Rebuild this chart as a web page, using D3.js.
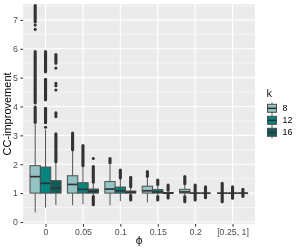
<!DOCTYPE html>
<html>
<head>
<meta charset="utf-8">
<script src="https://cdn.jsdelivr.net/npm/d3@7"></script>
<style>
  body { margin: 0; background: #fff; }
  svg { display: block; font-family: "Liberation Sans", Arial, sans-serif; will-change: transform; }
  text { fill: #000; }
</style>
</head>
<body>
<script>
// chart data
var phiLabels = ["0", "0.05", "0.1", "0.15", "0.2", "[0.25, 1]"];
var kLevels = ["8", "12", "16"];
var kColors = ["#93c4c3", "#00847f", "#0c5e5b"];
var yTicks = [0, 1, 2, 3, 4, 5, 6, 7];

// box stats, one row per k, one column per phi
var whiskerLow = [
    [0.33, 0.58, 0.58, 0.68, 0.92, 1],
    [0.50, 0.61, 0.72, 0.92, 1, 1],
    [0.59, 0.90, 0.95, 1, 1, 1]
];
var q1 = [
    [1, 1, 1, 1, 1, 1],
    [1, 1, 1, 1, 1, 1],
    [1, 1, 1, 1, 1, 1]
];
var median = [
    [1.57, 1.30, 1.14, 1.08, 1.04, 1],
    [1.34, 1.13, 1.08, 1.04, 1, 1],
    [1.17, 1.06, 1.03, 1, 1, 1]
];
var q3 = [
    [1.95, 1.60, 1.40, 1.24, 1.13, 1],
    [1.90, 1.36, 1.21, 1.12, 1, 1],
    [1.43, 1.14, 1.07, 1.02, 1, 1]
];
var whiskerHigh = [
    [3.40, 2.48, 2.00, 1.55, 1.27, 1],
    [3.20, 1.90, 1.50, 1.25, 1, 1],
    [2.08, 1.33, 1.17, 1.05, 1, 1]
];

// outliers: dense runs of points [from, to] and single points
var outlierRuns = [
    [
        [[3.45, 3.98], [4.12, 5.9], [6.93, 7.5]],
        [[2.5, 3.08]],
        [[2.05, 2.2]],
        [[1.58, 1.75]],
        [[1.32, 1.57], [0.7, 0.88]],
        [[1.03, 1.34], [0.7, 0.97]]
    ],
    [
        [[3.44, 3.94], [4.23, 4.94], [5.2, 5.9]],
        [[1.95, 2.65]],
        [[1.52, 1.8]],
        [[1.3, 1.45], [0.76, 0.88]],
        [[1.03, 1.28], [0.76, 0.97]],
        [[1.03, 1.22], [0.82, 0.97]]
    ],
    [
        [[2.09, 3.05], [5.5, 5.8]],
        [[1.38, 1.92], [0.6, 0.88]],
        [[1.22, 1.55], [0.76, 0.92]],
        [[1.1, 1.28], [0.83, 0.95]],
        [[1.03, 1.22], [0.84, 0.97]],
        [[1.03, 1.13], [0.88, 0.97]]
    ]
];
var outlierDots = [
    [[6.67, 6.82], [], [], [], [], []],
    [[3.28], [], [], [], [], []],
    [[3.65, 3.72, 3.78, 4.57, 4.72, 4.8, 5.33], [2.2], [], [], [], []]
];

var width = 300,
    height = 250,
    panel = {left: 23.1, right: 255, top: 4, bottom: 224};

var svg = d3.select("body")
    .append("svg")
    .attr("width", width)
    .attr("height", height);

var x = d3.scalePoint()
    .domain(phiLabels)
    .range([panel.left, panel.right])
    .padding(0.6);

var dodgeWidth = x.step() * 0.83;
var xk = d3.scaleBand()
    .domain(kLevels)
    .range([-dodgeWidth / 2, dodgeWidth / 2])
    .padding(0);

var y = d3.scaleLinear()
    .domain([-0.07, 7.55])
    .range([panel.bottom, panel.top]);

//panel background and grid
svg.append("rect")
    .attr("x", panel.left)
    .attr("y", panel.top)
    .attr("width", panel.right - panel.left)
    .attr("height", panel.bottom - panel.top)
    .attr("fill", "#ebebeb");

var minorTicks = yTicks.map(function(d){ return d + 0.5; });
svg.selectAll(".minor")
    .data(minorTicks)
    .enter()
    .append("line")
    .attr("x1", panel.left)
    .attr("x2", panel.right)
    .attr("y1", function(d){ return y(d); })
    .attr("y2", function(d){ return y(d); })
    .attr("stroke", "#fff")
    .attr("stroke-width", 0.5);

svg.selectAll(".major")
    .data(yTicks)
    .enter()
    .append("line")
    .attr("x1", panel.left)
    .attr("x2", panel.right)
    .attr("y1", function(d){ return y(d); })
    .attr("y2", function(d){ return y(d); })
    .attr("stroke", "#fff")
    .attr("stroke-width", 1.1);

svg.selectAll(".vgrid")
    .data(phiLabels)
    .enter()
    .append("line")
    .attr("x1", function(d){ return x(d); })
    .attr("x2", function(d){ return x(d); })
    .attr("y1", panel.top)
    .attr("y2", panel.bottom)
    .attr("stroke", "#fff")
    .attr("stroke-width", 1.1);

//boxplots
var groups = [];
kLevels.forEach(function(k, ki){
    phiLabels.forEach(function(p, pi){
        groups.push({k: k, ki: ki, phi: p, pi: pi});
    });
});

var boxW = xk.bandwidth();
var g = svg.selectAll(".box")
    .data(groups)
    .enter()
    .append("g")
    .attr("transform", function(d){
        return "translate(" + (x(d.phi) + xk(d.k) + boxW / 2) + ",0)";
    });

// whiskers
g.append("line")
    .attr("y1", function(d){ return y(whiskerLow[d.ki][d.pi]); })
    .attr("y2", function(d){ return y(q1[d.ki][d.pi]); })
    .attr("stroke", "#555")
    .attr("stroke-width", 1);
g.append("line")
    .attr("y1", function(d){ return y(q3[d.ki][d.pi]); })
    .attr("y2", function(d){ return y(whiskerHigh[d.ki][d.pi]); })
    .attr("stroke", "#555")
    .attr("stroke-width", 1);

// outlier runs and dots
g.each(function(d){
    var sel = d3.select(this);
    sel.selectAll(".run")
        .data(outlierRuns[d.ki][d.pi])
        .enter()
        .append("line")
        .attr("y1", function(r){ return y(r[0]); })
        .attr("y2", function(r){ return y(r[1]); })
        .attr("stroke", "#333")
        .attr("stroke-width", 3.1)
        .attr("stroke-linecap", "round");
    sel.selectAll(".dot")
        .data(outlierDots[d.ki][d.pi])
        .enter()
        .append("circle")
        .attr("r", 1.55)
        .attr("cy", function(v){ return y(v); })
        .attr("fill", "#333");
});

// boxes
g.append("rect")
    .attr("x", -boxW / 2)
    .attr("width", boxW)
    .attr("y", function(d){ return y(q3[d.ki][d.pi]); })
    .attr("height", function(d){ return y(q1[d.ki][d.pi]) - y(q3[d.ki][d.pi]); })
    .attr("fill", function(d){ return kColors[d.ki]; })
    .attr("stroke", "#4d4d4d")
    .attr("stroke-width", 1);

g.append("line")
    .attr("x1", -boxW / 2)
    .attr("x2", boxW / 2)
    .attr("y1", function(d){ return y(median[d.ki][d.pi]); })
    .attr("y2", function(d){ return y(median[d.ki][d.pi]); })
    .attr("stroke", "#333")
    .attr("stroke-width", 1.7);

//axes
var yAxis = svg.append("g")
    .attr("transform", "translate(" + panel.left + ",0)")
    .call(d3.axisLeft(y).tickValues(yTicks).tickSize(2.75).tickPadding(2.5));
var xAxis = svg.append("g")
    .attr("transform", "translate(0," + panel.bottom + ")")
    .call(d3.axisBottom(x).tickSize(2.75).tickPadding(2.2));

[yAxis, xAxis].forEach(function(a){
    a.select(".domain").remove();
    a.selectAll(".tick line").attr("stroke", "#333").attr("stroke-width", 1);
    a.selectAll(".tick text")
        .attr("fill", "#4d4d4d")
        .style("fill", "#4d4d4d")
        .style("font-size", "8.8px")
        .style("font-family", "Liberation Sans, Arial, sans-serif");
});

svg.append("text")
    .attr("transform", "translate(11," + ((panel.top + panel.bottom) / 2) + ") rotate(-90)")
    .attr("text-anchor", "middle")
    .style("font-size", "11px")
    .style("font-family", "Liberation Sans, Arial, sans-serif")
    .style("fill", "#000")
    .text("CC-improvement");

svg.append("text")
    .attr("x", (panel.left + panel.right) / 2)
    .attr("y", 244)
    .attr("text-anchor", "middle")
    .style("font-size", "11px")
    .style("font-family", "DejaVu Sans, sans-serif")
    .style("fill", "#1a1a1a")
    .text("\u03D5");

//legend
var legend = svg.append("g")
    .attr("transform", "translate(266,0)");

legend.append("text")
    .attr("x", 0.5)
    .attr("y", 97.3)
    .style("font-size", "11px")
    .style("font-family", "Liberation Sans, Arial, sans-serif")
    .style("fill", "#1a1a1a")
    .text("k");

var keyY = d3.scalePoint()
    .domain(kLevels)
    .range([108.3, 132.3]);

var keys = legend.selectAll(".key")
    .data(kLevels)
    .enter()
    .append("g")
    .attr("transform", function(d){ return "translate(0," + keyY(d) + ")"; });

keys.append("line")
    .attr("x1", 6).attr("x2", 6)
    .attr("y1", -6).attr("y2", 6)
    .attr("stroke", "#555")
    .attr("stroke-width", 1);
keys.append("rect")
    .attr("x", 1.5)
    .attr("y", -4)
    .attr("width", 9)
    .attr("height", 8)
    .attr("fill", function(d, i){ return kColors[i]; })
    .attr("stroke", "#4d4d4d")
    .attr("stroke-width", 1);
keys.append("line")
    .attr("x1", 1.5).attr("x2", 10.5)
    .attr("y1", 0).attr("y2", 0)
    .attr("stroke", "#333")
    .attr("stroke-width", 1.5);
keys.append("text")
    .attr("x", 16.5)
    .attr("y", 3.1)
    .style("font-size", "8.8px")
    .style("font-family", "Liberation Sans, Arial, sans-serif")
    .style("fill", "#000")
    .text(function(d){ return d; });
</script>
</body>
</html>
